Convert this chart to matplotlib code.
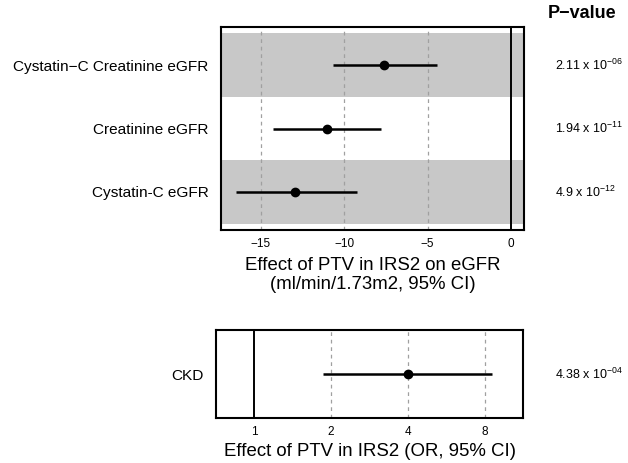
import matplotlib
matplotlib.use("Agg")
import matplotlib.pyplot as plt
import numpy as np

plt.rcParams['font.family'] = ['Liberation Sans', 'DejaVu Sans']
plt.rcParams['mathtext.fontset'] = 'custom'
plt.rcParams['mathtext.rm'] = 'Liberation Sans'
plt.rcParams['mathtext.it'] = 'Liberation Sans'

# eGFR panel data
egfr_labels = ["Cystatin\u2212C Creatinine eGFR", "Creatinine eGFR", "Cystatin-C eGFR"]
egfr_est = [-7.6, -11.06, -12.94]
egfr_lo = [-10.7, -14.26, -16.5]
egfr_hi = [-4.46, -7.82, -9.26]
egfr_p = [r"$\mathregular{2.11\ x\ 10^{-06}}$", r"$\mathregular{1.94\ x\ 10^{-11}}$", r"$\mathregular{4.9\ x\ 10^{-12}}$"]
egfr_ticks = [-15, -10, -5, 0]

# CKD panel data
ckd_labels = ["CKD"]
ckd_est = [4.0]
ckd_lo = [1.86]
ckd_hi = [8.49]
ckd_p = [r"$\mathregular{4.38\ x\ 10^{-04}}$"]
ckd_ticks = [1, 2, 4, 8]

W, H = 628, 463
fig = plt.figure(figsize=(W/100, H/100), dpi=100)

def px_axes(l, r, t, b):
    return fig.add_axes([l/W, 1-b/H, (r-l)/W, (b-t)/H])

grid_kw = dict(color='#a0a0a0', lw=0.9, ls=(0, (3, 3)), zorder=1)

# Top panel
ax1 = px_axes(221, 524, 27, 230)
n = len(egfr_labels)
ypos = np.arange(n)[::-1] + 1  # top row first
for i, y in enumerate(ypos):
    if i % 2 == 0:
        ax1.axhspan(y-0.5, y+0.5, color='#c8c8c8', zorder=0, lw=0)
for t in egfr_ticks[:-1]:
    ax1.axvline(t, **grid_kw)
ax1.axvline(0, color='black', lw=1.4, zorder=2)
for y, e, lo, hi in zip(ypos, egfr_est, egfr_lo, egfr_hi):
    ax1.plot([lo, hi], [y, y], color='black', lw=1.8, zorder=3, solid_capstyle='butt')
    ax1.plot([e], [y], 'o', color='black', ms=6, zorder=4)
ax1.set_xlim(-17.4, 0.78)
ax1.set_ylim(0.4, 3.6)
ax1.set_yticks(ypos)
ax1.set_yticklabels(egfr_labels, fontsize=11.1)
ax1.set_xticks(egfr_ticks)
ax1.set_xticklabels([("\u2212%d" % abs(t)) if t < 0 else str(t) for t in egfr_ticks], fontsize=8.5)
ax1.tick_params(axis='y', length=0, pad=9)
ax1.tick_params(axis='x', length=0, pad=6)
ax1.set_xlabel("Effect of PTV in IRS2 on eGFR\n(ml/min/1.73m2, 95% CI)", fontsize=13.4, labelpad=5, linespacing=1.15)
for s in ax1.spines.values():
    s.set_linewidth(1.5)
for y, p in zip(ypos, egfr_p):
    ax1.text(555, y, p, transform=matplotlib.transforms.blended_transform_factory(None, ax1.transData) if False else ax1.get_yaxis_transform(), fontsize=9, va='center', ha='left') if False else None
    fig.text(555/W, 0, p, fontsize=9, va='center', ha='left',
             transform=matplotlib.transforms.blended_transform_factory(fig.transFigure, ax1.transData)).set_y(y)
fig.text(548/W, 1-13/H, "P\u2212value", fontsize=13, fontweight='bold', ha='left', va='center')

# Bottom panel
ax2 = px_axes(216, 523, 330, 418)
lx = np.log2
for t in ckd_ticks[1:]:
    ax2.axvline(lx(t), **grid_kw)
ax2.axvline(lx(1), color='black', lw=1.4, zorder=2)
for y, e, lo, hi in zip([1], ckd_est, ckd_lo, ckd_hi):
    ax2.plot([lx(lo), lx(hi)], [y, y], color='black', lw=1.8, zorder=3, solid_capstyle='butt')
    ax2.plot([lx(e)], [y], 'o', color='black', ms=6, zorder=4)
ax2.set_xlim(lx(0.71), lx(11.26))
ax2.set_ylim(0.5, 1.5)
ax2.set_yticks([1])
ax2.set_yticklabels(ckd_labels, fontsize=11.1)
ax2.set_xticks([lx(t) for t in ckd_ticks])
ax2.set_xticklabels([str(t) for t in ckd_ticks], fontsize=8.5)
ax2.tick_params(axis='y', length=0, pad=9)
ax2.tick_params(axis='x', length=0, pad=6)
ax2.set_xlabel("Effect of PTV in IRS2 (OR, 95% CI)", fontsize=13.4, labelpad=3)
for s in ax2.spines.values():
    s.set_linewidth(1.5)
for p in ckd_p:
    fig.text(555/W, 0, p, fontsize=9, va='center', ha='left',
             transform=matplotlib.transforms.blended_transform_factory(fig.transFigure, ax2.transData)).set_y(1)

fig.savefig("out.png", dpi=100)
